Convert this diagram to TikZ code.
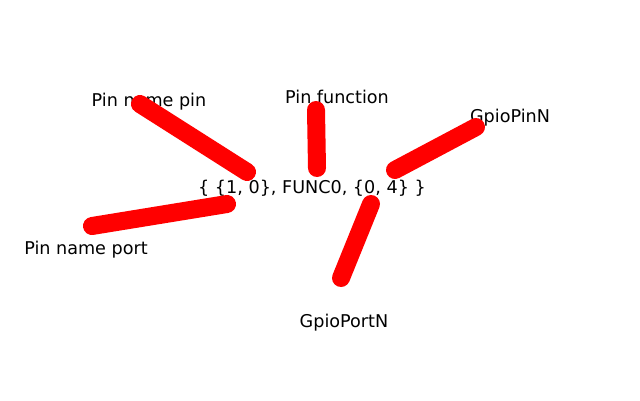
\documentclass[tikz,border=0pt]{standalone}
\usepackage{fontspec}
\setmainfont{DejaVu Sans}
\usetikzlibrary{positioning}
\definecolor{StrokeRed}{HTML}{FF0000}

\begin{document}
\begin{tikzpicture}[
        x=1pt, y=-1pt,
        lbl/.style={inner sep=0pt, font=\fontsize{17.6}{20}\selectfont, text=black},
        mark stroke/.style={draw=StrokeRed, line width=18pt, line cap=round}
      ]
        \useasboundingbox (0,0) rectangle (640,400);

        % labels
        \node[lbl] (tuple) at (312,188) {\{ \{1, 0\}, FUNC0, \{0, 4\} \}};
        \node[lbl] (pinname) at (149,102) {Pin name pin};
        \node[lbl] (pinfunc) at (337,97) {Pin function};
        \node[lbl] (pinnum) at (510,118) {GpioPinN};
        \node[lbl] (portname) at (86,250) {Pin name port};
        \node[lbl] (portnum) at (344,323) {GpioPortN};

        % stroke ends
        \coordinate (pinnameA) at (140,104);
        \coordinate (pinnameB) at (247,172);
        \coordinate (pinfuncA) at (316,110);
        \coordinate (pinfuncB) at (317,168);
        \coordinate (pinnumA) at (476,127);
        \coordinate (pinnumB) at (395,170);
        \coordinate (portnameA) at (92,226);
        \coordinate (portnameB) at (227,204);
        \coordinate (portnumA) at (341,278);
        \coordinate (portnumB) at (371,204);

        \draw[mark stroke] (pinnameA) -- (pinnameB);
        \draw[mark stroke] (pinfuncA) -- (pinfuncB);
        \draw[mark stroke] (pinnumA) -- (pinnumB);
        \draw[mark stroke] (portnameA) -- (portnameB);
        \draw[mark stroke] (portnumA) -- (portnumB);
      \end{tikzpicture}
\end{document}
